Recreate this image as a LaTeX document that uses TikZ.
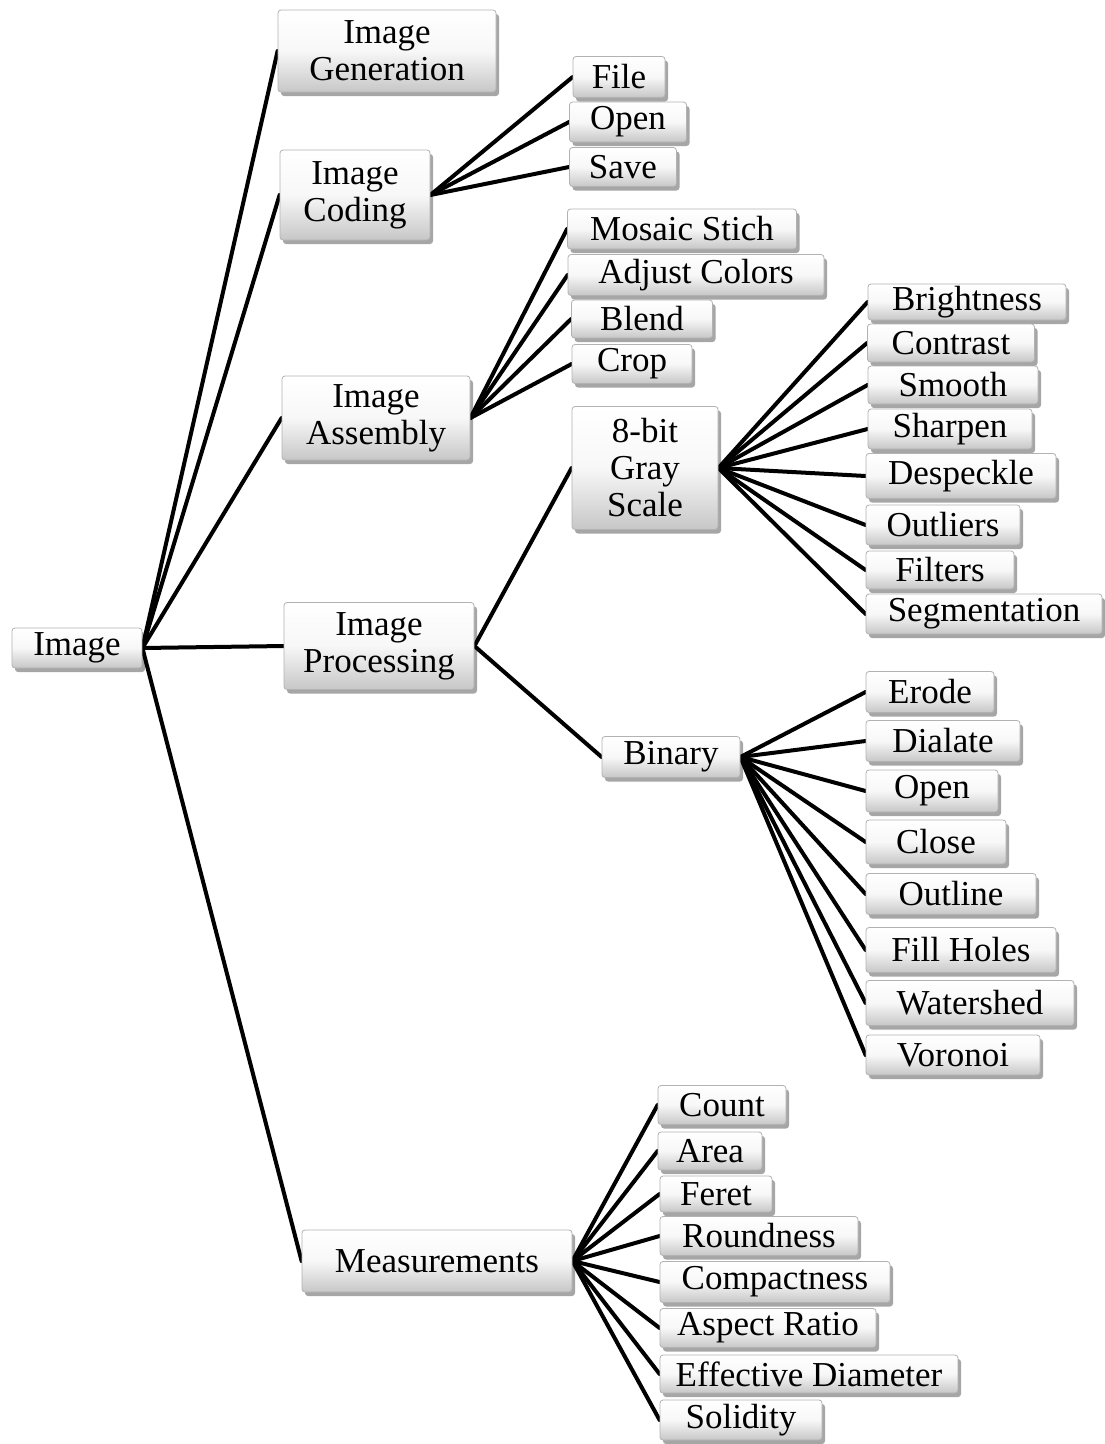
\documentclass[tikz,border=0pt]{standalone}
\usepackage{fontspec}
\setmainfont{Liberation Serif}
\usetikzlibrary{shadows,backgrounds}
\tikzset{
  box/.style={rectangle, rounded corners=3pt, draw=black!30, line width=0.8pt,
    top color=white, bottom color=black!22, middle color=black!3,
    drop shadow={shadow xshift=3pt, shadow yshift=-4pt, opacity=0.35, fill=black},
    inner sep=0pt, align=center, font=\fontsize{35}{37}\selectfont,
    text=black},
  conn/.style={line width=4pt, black, line cap=round, line join=round},
}
\newcommand{\bx}[6]{\node[box, minimum width=#4pt, minimum height=#5pt] (#1) at (#2,#3) {#6};}
\begin{document}
\begin{tikzpicture}[x=1pt,y=-1pt]
\useasboundingbox (0,0) rectangle (1104,1444);
\bx{img}{77}{648}{130}{40}{Image}
\bx{gen}{387}{51}{218}{82}{Image\\Generation}
\bx{cod}{355}{195}{150}{90}{Image\\Coding}
\bx{file}{619}{77}{92}{41}{File}
\bx{open}{628}{122}{117}{40}{Open}
\bx{save}{623}{167}{107}{39}{Save}
\bx{mos}{682}{229}{229}{40}{Mosaic Stich}
\bx{adj}{696}{275}{256}{41}{Adjust Colors}
\bx{blend}{642}{319}{141}{38}{Blend}
\bx{crop}{632}{364}{120}{39}{Crop}
\bx{asm}{376}{418}{188}{84}{Image\\Assembly}
\bx{gray}{645}{468}{146}{123}{8-bit\\Gray\\Scale}
\bx{proc}{379}{646}{190}{87}{Image\\Processing}
\bx{bin}{671}{757}{138}{41}{Binary}
\bx{bri}{967}{302}{198}{36}{Brightness}
\bx{con}{951}{343}{167}{38}{Contrast}
\bx{smo}{953}{385}{170}{38}{Smooth}
\bx{sha}{950}{429}{164}{40}{Sharpen}
\bx{des}{961}{476}{190}{45}{Despeckle}
\bx{out}{943}{525}{154}{40}{Outliers}
\bx{fil}{940}{570}{148}{38}{Filters}
\bx{seg}{984}{614}{236}{40}{Segmentation}
\bx{ero}{930}{692}{128}{41}{Erode}
\bx{dia}{943}{741}{154}{41}{Dialate}
\bx{bopen}{932}{791}{132}{42}{Open}
\bx{clo}{936}{842}{140}{44}{Close}
\bx{outl}{951}{894}{170}{41}{Outline}
\bx{fill}{961}{950}{190}{45}{Fill Holes}
\bx{wat}{970}{1003}{208}{45}{Watershed}
\bx{vor}{953}{1055}{174}{40}{Voronoi}
\bx{mea}{437}{1261}{270}{62}{Measurements}
\bx{cnt}{722}{1105}{128}{39}{Count}
\bx{area}{710}{1151}{104}{38}{Area}
\bx{fer}{716}{1194}{112}{36}{Feret}
\bx{rnd}{759}{1236}{198}{39}{Roundness}
\bx{cmp}{775}{1282}{230}{41}{Compactness}
\bx{asp}{768}{1328}{216}{39}{Aspect Ratio}
\bx{eff}{809}{1374}{298}{38}{Effective Diameter}
\bx{sol}{741}{1420}{162}{40}{Solidity}
\begin{scope}[on background layer]
\foreach \c in {gen,cod,asm,proc,mea} \draw[conn] (img.east) -- (\c.west);
\foreach \c in {file,open,save} \draw[conn] (cod.east) -- (\c.west);
\foreach \c in {mos,adj,blend,crop} \draw[conn] (asm.east) -- (\c.west);
\foreach \c in {gray,bin} \draw[conn] (proc.east) -- (\c.west);
\foreach \c in {bri,con,smo,sha,des,out,fil,seg} \draw[conn] (gray.east) -- (\c.west);
\foreach \c in {ero,dia,bopen,clo,outl,fill,wat,vor} \draw[conn] (bin.east) -- (\c.west);
\foreach \c in {cnt,area,fer,rnd,cmp,asp,eff,sol} \draw[conn] (mea.east) -- (\c.west);
\end{scope}
\end{tikzpicture}
\end{document}
